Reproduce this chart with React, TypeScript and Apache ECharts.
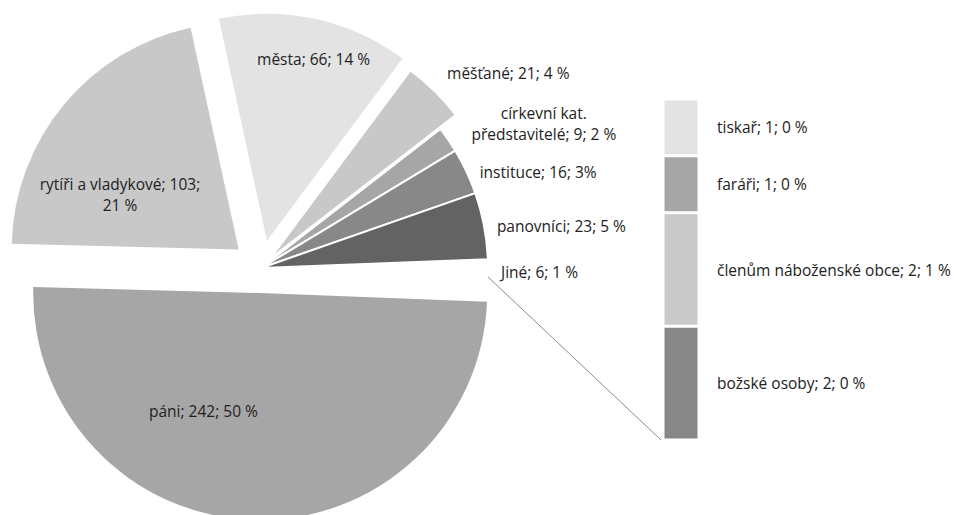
import React, { useEffect, useRef } from "react";
import * as echarts from "echarts";

// ---- data ----
const pieNames = [
  "páni",
  "rytíři a vladykové",
  "města",
  "měšťané",
  "církevní kat.\npředstavitelé",
  "instituce",
  "panovníci",
  "Jiné",
];
const pieValues = [242, 103, 66, 21, 9, 16, 23, 6];
const piePercents = ["50 %", "21 %", "14 %", "4 %", "2 %", "3%", "5 %", "1 %"];

const barNames = ["božské osoby", "členům náboženské obce", "faráři", "tiskař"];
const barValues = [2, 2, 1, 1];
const barPercents = ["0 %", "1 %", "0 %", "0 %"];

// ---- styles ----
const pieColors = ["#a6a6a6", "#c8c8c8", "#e3e3e3", "#c8c8c8", "#a6a6a6", "#888888", "#636363", "#ffffff"];
const pieFillVisible = [true, true, true, true, true, true, true, false];
const pieExplode = [25, 29, 28, 20, 0, 0, 0, 0];
const pieBorder = [0, 0, 0, 0, 2, 2, 2, 0];
const pieLabelInside = [true, true, true, false, false, false, false, false];
const pieLabelBreak = [false, true, false, false, false, false, false, false];
const pieLabelShift: number[][] = [
  [-53, 2],
  [-29, 19],
  [22, -68],
  [2.5, -13],
  [84, -12],
  [1, 4],
  [0, 2],
  [0, 4],
];
const pieLabelAlign: (string | null)[] = [null, null, null, null, "center", null, null, null];
const barColors = ["#878787", "#c9c9c9", "#a6a6a6", "#e3e3e3"];

const FONT = "'Open Sans', sans-serif";
const FONT_SIZE = 15.5;
const TEXT_COLOR = "#222222";
const CENTER = [261, 268];
const RADIUS = 227;
const GRID = { left: 663, top: 99, width: 36, height: 341 };

export default function App() {
  const ref = useRef<HTMLDivElement>(null);

  useEffect(() => {
    if (!ref.current) return;
    const chart = echarts.init(ref.current, undefined, { renderer: "svg" });

    const total = pieValues.reduce((a, b) => a + b, 0);
    const startAngle = -(pieValues[pieValues.length - 1] / total) * 180;
    const midScreen = pieValues.map((v, i) => {
      const before = pieValues.slice(0, i).reduce((a, b) => a + b, 0);
      return ((-startAngle + ((before + v / 2) / total) * 360) * Math.PI) / 180;
    });

    const labelText = (i: number) =>
      `${pieNames[i]}; ${pieValues[i]};${pieLabelBreak[i] ? "\n" : " "}${piePercents[i]}`;

    const pieSeries = (members: number[], center: number[]) => ({
      type: "pie",
      center,
      radius: RADIUS,
      startAngle,
      clockwise: true,
      avoidLabelOverlap: false,
      silent: true,
      emphasis: { disabled: true },
      labelLine: { show: false, length: 8, length2: 0 },
      label: {
        fontFamily: FONT,
        fontSize: FONT_SIZE,
        color: TEXT_COLOR,
        lineHeight: 21,
      },
      labelLayout: (p: any) => {
        const i = p.dataIndex;
        if (!members.includes(i)) return {};
        const [dx, dy] = pieLabelShift[i];
        const out: any = { dx, dy };
        if (pieLabelAlign[i]) out.align = pieLabelAlign[i];
        return out;
      },
      data: pieValues.map((v, i) => {
        const on = members.includes(i);
        return {
          name: pieNames[i],
          value: v,
          itemStyle: on
            ? {
                color: pieFillVisible[i] ? pieColors[i] : "rgba(0,0,0,0)",
                borderColor: "#ffffff",
                borderWidth: pieBorder[i],
              }
            : { color: "rgba(0,0,0,0)", borderWidth: 0 },
          label: on
            ? {
                show: true,
                position: pieLabelInside[i] ? "inside" : "outside",
                formatter: labelText(i),
              }
            : { show: false },
        };
      }),
    });

    const series: any[] = [];
    const baseMembers = pieValues.map((_, i) => i).filter((i) => pieExplode[i] === 0);
    series.push(pieSeries(baseMembers, CENTER));
    pieValues.forEach((_, i) => {
      if (pieExplode[i] > 0) {
        const c = [
          CENTER[0] + pieExplode[i] * Math.cos(midScreen[i]),
          CENTER[1] + pieExplode[i] * Math.sin(midScreen[i]),
        ];
        series.push(pieSeries([i], c));
      }
    });

    barNames.forEach((n, i) => {
      series.push({
        type: "bar",
        name: n,
        stack: "other",
        data: [barValues[i]],
        barWidth: "100%",
        silent: true,
        itemStyle: { color: barColors[i], borderColor: "#ffffff", borderWidth: 1.5 },
        label: {
          show: true,
          position: "right",
          distance: 18,
          formatter: `${n}; ${barValues[i]}; ${barPercents[i]}`,
          fontFamily: FONT,
          fontSize: FONT_SIZE,
          color: TEXT_COLOR,
        },
      });
    });

    const barTotal = barValues.reduce((a, b) => a + b, 0);

    // connector line from the "Jiné" slice's lower corner to the bar's bottom-left corner
    const jineEnd = (-startAngle * Math.PI) / 180;
    const x1 = CENTER[0] + RADIUS * Math.cos(jineEnd);
    const y1 = CENTER[1] + RADIUS * Math.sin(jineEnd);
    const x2 = GRID.left - 2;
    const y2 = GRID.top + GRID.height; // value 0 of the stacked bar axis

    chart.setOption({
      animation: false,
      backgroundColor: "#ffffff",
      grid: { ...GRID, containLabel: false },
      xAxis: { type: "category", data: [""], show: false },
      yAxis: { type: "value", min: 0, max: barTotal, show: false },
      tooltip: { show: false },
      graphic: [
        {
          type: "line",
          silent: true,
          shape: { x1, y1, x2, y2 },
          style: { stroke: "#8c8c8c", lineWidth: 1 },
        },
      ],
      series,
    });

    return () => chart.dispose();
  }, []);

  return (
    <div
      ref={ref}
      style={{ position: "absolute", left: 0, top: 0, width: 954, height: 515 }}
    />
  );
}
